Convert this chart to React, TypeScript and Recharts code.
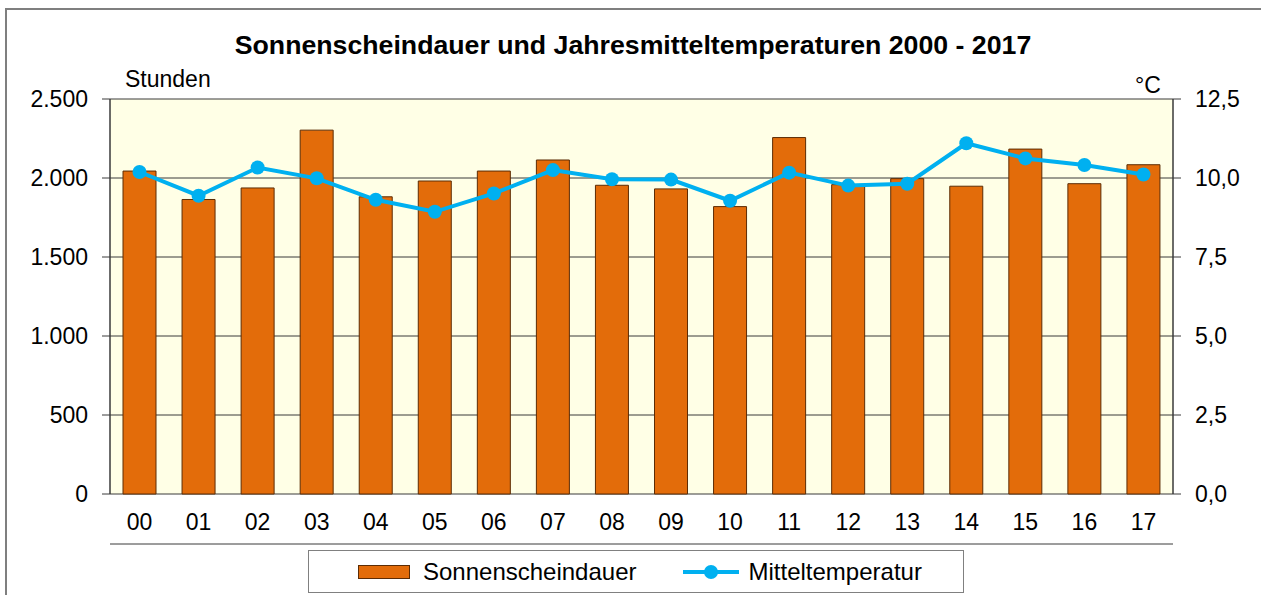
import React from 'react'
import {
  ComposedChart,
  Bar,
  Line,
  XAxis,
  YAxis,
  CartesianGrid,
  Legend,
} from 'recharts'

// Jahre 2000 - 2017 (zweistellig)
const years = ['00', '01', '02', '03', '04', '05', '06', '07', '08', '09', '10', '11', '12', '13', '14', '15', '16', '17']
// Sonnenscheindauer in Stunden
const sunshineHours = [2044, 1864, 1937, 2303, 1881, 1981, 2044, 2114, 1954, 1931, 1819, 2256, 1958, 1996, 1948, 2183, 1964, 2084]
// Jahresmitteltemperatur in °C
const meanTemps = [10.19, 9.44, 10.33, 9.99, 9.31, 8.93, 9.51, 10.25, 9.96, 9.95, 9.28, 10.17, 9.76, 9.82, 11.1, 10.62, 10.41, 10.11]

const hourTicks = [0, 500, 1000, 1500, 2000, 2500]
const tempTicks = [0, 2.5, 5, 7.5, 10, 12.5]
const edgeTicks = [0, 1, 2, 3, 4, 5, 6, 7, 8, 9, 10, 11, 12, 13, 14, 15, 16, 17, 18]

const FONT = '"Liberation Sans", Arial, sans-serif'
const BAR_FILL = '#E36C0A'
const BAR_STROKE = '#5C2C05'
const LINE_COLOR = '#00B0F0'
const GRID = '#3a3a3a'

const data = years.map((year, i) => ({
  year,
  hours: sunshineHours[i],
  temp: meanTemps[i],
}))

function formatHours(v: number): string {
  if (v < 1000) return String(v)
  return `${Math.floor(v / 1000)}.${String(v % 1000).padStart(3, '0')}`
}

function formatTemp(v: number): string {
  return v.toFixed(1).replace('.', ',')
}

function LegendBox() {
  return (
    <div
      style={{
        boxSizing: 'border-box',
        width: 656,
        height: 43,
        border: '1px solid #808080',
        background: '#fff',
        display: 'flex',
        alignItems: 'center',
        fontFamily: FONT,
        fontSize: 24,
        color: '#000',
      }}
    >
      <span
        style={{
          display: 'inline-block',
          width: 50,
          height: 12,
          background: BAR_FILL,
          border: `1px solid ${BAR_STROKE}`,
          marginLeft: 49,
          marginRight: 13,
        }}
      />
      <span>Sonnenscheindauer</span>
      <svg width={56} height={20} style={{ marginLeft: 46, marginRight: 10 }}>
        <line x1={0} y1={10} x2={56} y2={10} stroke={LINE_COLOR} strokeWidth={4} />
        <circle cx={28} cy={10} r={7} fill={LINE_COLOR} />
      </svg>
      <span>Mitteltemperatur</span>
    </div>
  )
}

export default function App() {
  return (
    <div style={{ position: 'absolute', left: 0, top: 0, width: 1261, height: 595, overflow: 'hidden', background: '#fff' }}>
      <div
        style={{
          position: 'absolute',
          left: 5,
          top: 8,
          width: 1300,
          height: 700,
          borderTop: '2px solid #7f7f7f',
          borderLeft: '2px solid #7f7f7f',
        }}
      />
      <ComposedChart
        width={1261}
        height={595}
        data={data}
        margin={{ top: 99, right: 0, bottom: 7, left: 0 }}
        style={{ position: 'absolute', left: 0, top: 0, fontFamily: FONT }}
      >
        <CartesianGrid xAxisId="edge" yAxisId="left" stroke={GRID} fill="#FFFFE6" fillOpacity={1} />
        <XAxis
          xAxisId="edge"
          type="number"
          domain={[0, 18]}
          allowDataOverflow
          ticks={edgeTicks}
          tick={false}
          tickSize={7}
          tickLine={{ stroke: GRID }}
          axisLine={{ stroke: GRID }}
          height={1}
        />
        <XAxis
          xAxisId="cat"
          dataKey="year"
          tickLine={false}
          axisLine={false}
          tickSize={7}
          tickMargin={13}
          height={50}
          interval={0}
          tick={{ fontSize: 23, fill: '#000', fontFamily: FONT }}
        />
        <YAxis
          yAxisId="left"
          domain={[0, 2500]}
          ticks={hourTicks}
          width={110}
          tickSize={8}
          tickMargin={14}
          tickFormatter={formatHours}
          axisLine={{ stroke: GRID }}
          tickLine={{ stroke: GRID }}
          tick={{ fontSize: 23, fill: '#000', fontFamily: FONT }}
        />
        <YAxis
          yAxisId="right"
          orientation="right"
          domain={[0, 12.5]}
          ticks={tempTicks}
          width={88}
          tickSize={8}
          tickMargin={14}
          tickFormatter={formatTemp}
          axisLine={{ stroke: GRID }}
          tickLine={{ stroke: GRID }}
          tick={{ fontSize: 23, fill: '#000', fontFamily: FONT }}
        />
        <Bar
          xAxisId="cat"
          yAxisId="left"
          dataKey="hours"
          name="Sonnenscheindauer"
          barSize={33}
          fill={BAR_FILL}
          stroke={BAR_STROKE}
          strokeWidth={1}
          isAnimationActive={false}
        />
        <Line
          xAxisId="cat"
          yAxisId="right"
          dataKey="temp"
          name="Mitteltemperatur"
          stroke={LINE_COLOR}
          strokeWidth={4}
          dot={{ r: 7, fill: LINE_COLOR, stroke: 'none' }}
          activeDot={false}
          isAnimationActive={false}
        />
        <Legend
          verticalAlign="bottom"
          height={43}
          content={() => <LegendBox />}
          wrapperStyle={{ top: 550, left: 308, bottom: 'auto', width: 656, height: 43 }}
        />
        <text x={633} y={54} textAnchor="middle" fontSize={26.7} fontWeight="bold" fontFamily={FONT} fill="#000">
          Sonnenscheindauer und Jahresmitteltemperaturen 2000 - 2017
        </text>
        <text x={125} y={87} fontSize={23} fontFamily={FONT} fill="#000">
          Stunden
        </text>
        <text x={1135} y={93} fontSize={23} fontFamily={FONT} fill="#000">
          °C
        </text>
      </ComposedChart>
    </div>
  )
}
